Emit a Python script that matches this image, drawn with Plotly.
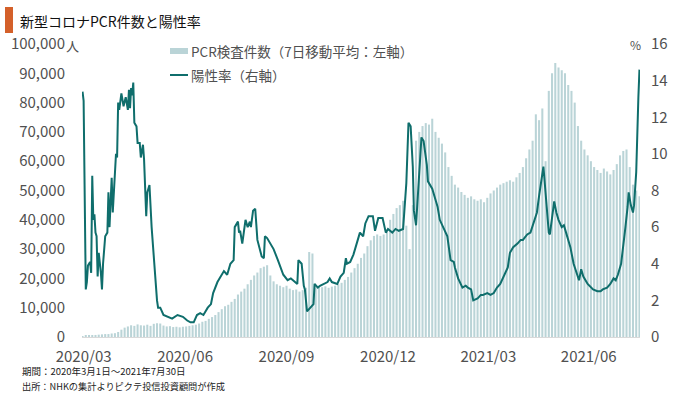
import pandas as pd
import plotly.graph_objects as go

# ---------------- data ----------------
start_date = "2020-03-01"
end_date = "2021-07-30"

# PCR tests (7-day moving average, left axis), sampled every 3 days from 2020-03-01
pcr_tests = [
    300, 400, 500, 600, 700, 800, 900, 1000, 1000, 1200, 1300, 1700,
    2500, 3200, 3600, 4000, 3800, 4300, 4000, 3900, 4200, 3800, 4500, 4700,
    4600, 3900, 3600, 3700, 3400, 3500, 3300, 3500, 3600, 3800, 4000, 4200,
    4600, 5200, 5500, 6200, 6800, 7500, 8500, 9500, 10500, 11000, 12000, 13000,
    14500, 15500, 16500, 18000, 19500, 21000, 22000, 23500, 24000, 24500, 21000, 19000,
    18000, 17500, 17000, 17500, 16500, 16000, 16200, 15500, 16000, 16800, 29000, 28500,
    17000, 17200, 17000, 17300, 16800, 17200, 17500, 18000, 18500, 19500, 20500, 22000,
    23500, 25000, 27000, 28500, 31000, 33000, 34500, 35000, 34500, 35000, 36000, 40000,
    42000, 44000, 45000, 46500, 38000, 30000, 45000, 67000, 70000, 72000, 73000, 72500,
    74500, 70000, 68000, 66000, 63000, 58000, 55000, 52000, 51000, 49500, 48500, 47500,
    48000, 47000, 46500, 47000, 46000, 47500, 49000, 50000, 51000, 52000, 52500, 53000,
    53500, 53000, 54500, 56000, 58000, 61000, 64000, 67000, 76000, 74000, 78000, 60000,
    84000, 90000, 93500, 92000, 91000, 90000, 86000, 84000, 80000, 72000, 67000, 64000,
    62000, 60000, 58000, 57000, 56000, 57500, 56500, 55500, 57000, 59000, 62000, 63500,
    64000, 58000, 52000, 50000, 48000,
]

# Positivity rate (right axis): days since 2020-03-01 and rate (%)
rate_day = [
    0, 1, 3, 4, 5, 7, 8, 9, 10, 11, 12, 13, 14, 15, 17, 18, 19, 21, 23, 24,
    25, 26, 27, 28, 29, 31, 32, 33, 34, 36, 38, 40, 42, 43, 44, 45, 46, 47, 48, 50,
    51, 53, 54, 56, 57, 58, 59, 60, 62, 64, 66, 69, 70, 72, 75, 79, 83, 88, 93, 97,
    100, 103, 106, 109, 112, 116, 119, 121, 125, 128, 131, 134, 137, 140, 141, 144, 145, 146, 148, 151,
    153, 155, 156, 158, 160, 162, 163, 166, 168, 169, 171, 174, 177, 181, 183, 186, 190, 193, 195, 199,
    200, 203, 205, 206, 208, 211, 214, 215, 218, 220, 223, 227, 229, 231, 236, 239, 242, 244, 245, 248,
    251, 255, 257, 260, 262, 265, 269, 271, 274, 278, 281, 283, 287, 290, 293, 297, 300, 302, 304, 306,
    307, 309, 310, 312, 314, 316, 317, 319, 320, 322, 324, 326, 329, 331, 334, 338, 341, 344, 345, 348,
    352, 355, 357, 360, 362, 366, 369, 371, 375, 378, 381, 384, 387, 390, 394, 396, 399, 403, 406, 408,
    412, 415, 418, 421, 423, 426, 427, 428, 430, 432, 433, 435, 437, 439, 441, 444, 446, 448, 452, 455,
    458, 460, 462, 464, 468, 470, 473, 477, 480, 482, 486, 489, 492, 494, 496, 499, 501, 503, 505, 506,
    508, 510, 511, 513, 515, 516,
]
rate_pct = [
    13.4, 12.9, 2.6, 3.0, 3.9, 4.1, 3.5, 8.8, 6.4, 6.7, 5.7, 5.5, 3.3, 4.6, 3.5, 2.6, 4.0, 5.5, 5.7, 7.9,
    6.0, 7.1, 8.7, 6.8, 8.0, 10.0, 9.8, 12.8, 12.4, 13.3, 12.6, 13.1, 12.4, 13.5, 12.5, 13.6, 13.2, 13.9, 11.7, 11.5,
    10.6, 10.6, 9.8, 10.5, 9.7, 8.2, 6.6, 7.9, 8.3, 6.0, 4.2, 2.0, 1.6, 1.6, 1.2, 1.1, 1.0, 1.2, 1.1, 0.9,
    0.8, 0.8, 1.2, 1.3, 1.2, 1.6, 1.8, 2.4, 3.0, 3.3, 3.6, 3.4, 4.0, 4.2, 6.0, 6.3, 5.7, 5.8, 5.1, 6.4,
    6.0, 6.3, 6.0, 6.9, 7.0, 5.3, 5.1, 4.4, 4.3, 5.5, 5.4, 5.1, 4.8, 4.2, 3.9, 3.4, 3.1, 3.2, 3.1, 2.9,
    4.2, 4.0, 2.8, 2.6, 1.4, 1.6, 1.8, 2.9, 2.7, 2.8, 2.9, 3.0, 3.2, 3.0, 2.9, 3.3, 3.5, 4.3, 4.0, 4.1,
    4.5, 5.3, 5.7, 5.5, 6.2, 6.6, 6.6, 5.8, 6.5, 6.5, 5.7, 5.9, 5.7, 5.9, 5.8, 5.9, 8.4, 11.7, 11.5, 9.3,
    6.9, 6.1, 7.1, 9.5, 10.9, 10.7, 10.3, 9.4, 8.5, 8.3, 8.1, 7.7, 7.1, 6.4, 6.0, 5.5, 4.2, 4.1, 3.8, 3.2,
    2.7, 2.8, 2.7, 2.6, 2.0, 2.1, 2.3, 2.3, 2.4, 2.3, 2.4, 2.7, 2.9, 3.3, 3.8, 4.6, 4.9, 5.1, 5.3, 5.3,
    5.6, 5.7, 6.2, 6.8, 7.7, 8.8, 9.3, 8.6, 6.9, 5.7, 5.6, 6.6, 7.4, 6.8, 6.4, 6.0, 6.1, 5.7, 4.9, 4.0,
    3.4, 3.1, 3.7, 3.3, 2.9, 2.8, 2.6, 2.5, 2.5, 2.6, 2.7, 2.9, 3.2, 3.1, 3.4, 4.0, 4.9, 6.0, 7.1, 7.9,
    7.2, 6.8, 7.2, 9.0, 13.1, 14.6,
]

x_tick_dates = ["2020-03-02", "2020-06-04", "2020-09-06", "2020-12-09", "2021-03-12", "2021-06-13"]
x_tick_text = ["2020/03", "2020/06", "2020/09", "2020/12", "2021/03", "2021/06"]
left_ticks = [0, 10000, 20000, 30000, 40000, 50000, 60000, 70000, 80000, 90000, 100000]
right_ticks = [0, 2, 4, 6, 8, 10, 12, 14, 16]

title_text = "新型コロナPCR件数と陽性率"
legend_bar = "PCR検査件数（7日移動平均：左軸）"
legend_line = "陽性率（右軸）"
note1 = "期間：2020年3月1日～2021年7月30日"
note2 = "出所：NHKの集計よりピクテ投信投資顧問が作成"

# ---------------- figure ----------------
W, H = 680, 395
ML, MR, MT, MB = 82, 40, 44, 58
PW, PH = W - ML - MR, H - MT - MB

def px_x(px):
    return (px - ML) / PW

def px_y(py):
    return (H - MB - py) / PH

BAR_COLOR = "#bad4d7"
LINE_COLOR = "#0f6e6c"
TEXT_COLOR = "#505050"
JP = "Noto Sans CJK JP"

pcr_dates = pd.date_range(start_date, end_date, freq="3D")
rate_dates = pd.Timestamp(start_date) + pd.to_timedelta(rate_day, unit="D")

fig = go.Figure()
fig.add_trace(go.Bar(
    x=pcr_dates, y=pcr_tests, width=1.9 * 86400000,
    marker=dict(color=BAR_COLOR, line=dict(width=0)),
    yaxis="y", showlegend=False, hoverinfo="skip",
))
fig.add_trace(go.Scatter(
    x=rate_dates, y=rate_pct, mode="lines",
    line=dict(color=LINE_COLOR, width=2),
    yaxis="y2", showlegend=False,
))

fig.update_layout(
    width=W, height=H,
    margin=dict(l=ML, r=MR, t=MT, b=MB),
    paper_bgcolor="white", plot_bgcolor="white",
    font=dict(family=JP, color=TEXT_COLOR, size=15),
    xaxis=dict(
        type="date",
        range=["2020-02-29 12:00", "2021-07-30 12:00"],
        tickvals=x_tick_dates, ticktext=x_tick_text,
        showgrid=False, zeroline=False, ticks="",
        showline=True, linecolor="#d9d9d9", linewidth=1,
        tickfont=dict(family=JP, size=15, color=TEXT_COLOR),
        ticklabelstandoff=6,
    ),
    yaxis=dict(
        range=[0, 100000], tickvals=left_ticks,
        ticktext=[f"{v:,}" for v in left_ticks],
        showgrid=False, zeroline=False, ticks="", showline=False,
        tickfont=dict(family=JP, size=15, color=TEXT_COLOR),
        ticklabelstandoff=16,
    ),
    yaxis2=dict(
        range=[0, 16], tickvals=right_ticks,
        overlaying="y", side="right",
        showgrid=False, zeroline=False, ticks="", showline=False,
        tickfont=dict(family=JP, size=15, color=TEXT_COLOR),
        ticklabelstandoff=10,
    ),
)

shapes = [
    # title accent
    dict(type="rect", xref="paper", yref="paper",
         x0=px_x(5), x1=px_x(13), y0=px_y(33), y1=px_y(7),
         fillcolor="#d4602a", line=dict(width=0)),
    # legend symbols
    dict(type="rect", xref="paper", yref="paper",
         x0=px_x(170), x1=px_x(188), y0=px_y(54), y1=px_y(48),
         fillcolor=BAR_COLOR, line=dict(width=0)),
    dict(type="line", xref="paper", yref="paper",
         x0=px_x(170), x1=px_x(188), y0=px_y(75), y1=px_y(75),
         line=dict(color=LINE_COLOR, width=2)),
]

annotations = [
    dict(text=title_text, x=px_x(18), y=px_y(21), xanchor="left", yanchor="middle",
         font=dict(family=JP, size=14, color="#111111")),
    dict(text="人", x=px_x(64), y=px_y(45), xanchor="left", yanchor="middle",
         font=dict(family=JP, size=13, color=TEXT_COLOR)),
    dict(text="%", x=px_x(643), y=px_y(44), xanchor="right", yanchor="middle",
         font=dict(family=JP, size=12, color=TEXT_COLOR)),
    dict(text=legend_bar, x=px_x(189), y=px_y(51), xanchor="left", yanchor="middle",
         font=dict(family=JP, size=13.5, color=TEXT_COLOR)),
    dict(text=legend_line, x=px_x(189), y=px_y(75), xanchor="left", yanchor="middle",
         font=dict(family=JP, size=13.5, color=TEXT_COLOR)),
    dict(text=note1, x=px_x(20), y=px_y(371), xanchor="left", yanchor="middle",
         font=dict(family=JP, size=9.5, color="#222222")),
    dict(text=note2, x=px_x(20), y=px_y(386), xanchor="left", yanchor="middle",
         font=dict(family=JP, size=9.2, color="#222222")),
]
for a in annotations:
    a.update(xref="paper", yref="paper", showarrow=False)

fig.update_layout(shapes=shapes, annotations=annotations)
fig.write_html("out.html", config={"displayModeBar": False},
               post_script="document.body.style.margin='0px';")
